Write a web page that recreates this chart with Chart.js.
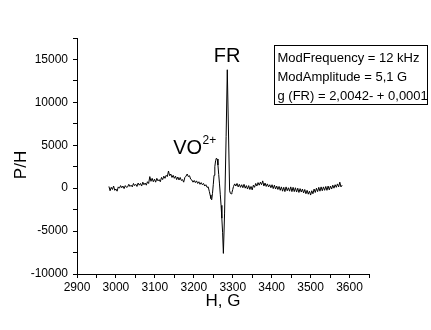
<!DOCTYPE html>
<html><head><meta charset="utf-8">
<script src="https://cdn.jsdelivr.net/npm/chart.js@4.4.0/dist/chart.umd.min.js"></script>
<style>html,body{margin:0;padding:0;background:#fff}canvas{display:block}</style>
</head><body>
<canvas id="c" width="431" height="330" style="width:431px;height:330px"></canvas>
<script>
// Magnetic field H, G
const fields = [
 2982,2985,2988,2991,2994,2997,3000,3003,3006,3009,
 3012,3015,3018,3021,3024,3027,3030,3033,3036,3039,
 3042,3045,3048,3051,3054,3057,3060,3063,3066,3069,
 3072,3075,3078,3081,3084,3087,3090,3093,3096,3099,
 3102,3105,3108,3111,3114,3117,3120,3123,3126,3129,
 3132,3135,3138,3141,3144,3147,3150,3153,3156,3159,
 3162,3165,3168,3171,3174,3177,3180,3183,3186,3189,
 3192,3195,3198,3201,3204,3207,3210,3213,3216,3219,
 3222,3225,3228,3231,3234,3237,3240,
 3242,3244,3246,3248,3250,3252,3254,3256,3258,3260,
 3262,3264,3266,3268,3270,3272,3274,3276,3279,3283,
 3286,3292,3294,3296,3298,3300,3302,3305,
 3308,3311,3314,3317,3320,3323,3326,3329,3332,3335,
 3338,3341,3344,3347,3350,3353,3356,3359,3362,3365,
 3368,3371,3374,3377,3380,3383,3386,3389,3392,3395,
 3398,3401,3404,3407,3410,3413,3416,3419,3422,3425,
 3428,3431,3434,3437,3440,3443,3446,3449,3452,3455,
 3458,3461,3464,3467,3470,3473,3476,3479,3482,3485,
 3488,3491,3494,3497,3500,3503,3506,3509,3512,3515,
 3518,3521,3524,3527,3530,3533,3536,3539,3542,3545,
 3548,3551,3554,3557,3560,3563,3566,3569,3572,3575,
 3578,3581
];
// Signal P/H
const signal = [
 200,-300,100,-150,250,-250,-100,-350,150,0,
 300,50,250,-50,300,100,150,450,200,350,
 150,550,300,450,200,600,350,550,250,700,
 400,600,350,750,550,1350,800,1150,750,1050,
 700,1150,850,1000,750,1250,1000,1400,1150,1500,
 1350,2000,1450,1650,1250,1500,1150,1400,1000,1300,
 950,1250,900,1000,700,1250,1400,1650,1350,1450,
 1050,950,700,900,650,850,550,750,450,650,
 400,550,250,400,100,150,-400,
 -800,-1200,-1350,-600,400,1500,2500,3200,3500,3400,
 2700,1600,500,-700,-2000,-3500,-5200,-7600,-3000,6000,
 13800,-300,-600,-650,-500,-150,200,500,
 250,550,150,450,100,400,50,450,0,300,
 -100,300,-150,200,-200,350,100,550,250,650,
 350,700,400,850,250,600,200,500,150,400,
 50,400,-50,350,-100,250,-150,200,-250,150,
 -350,100,-400,150,-300,50,-350,150,-400,100,
 -400,50,-450,0,-500,-50,-450,-100,-550,-150,
 -650,-250,-700,-350,-800,-300,-650,-100,-500,0,
 -400,100,-350,150,-300,150,-250,200,-250,250,
 -200,250,-100,350,0,400,100,500,150,700,
 150,350
];
const xTicks = [2900,2950,3000,3050,3100,3150,3200,3250,3300,3350,3400,3450,3500,3550,3600,3650];
const xLabels = [2900,3000,3100,3200,3300,3400,3500,3600];
const yTicks = [-10000,-7500,-5000,-2500,0,2500,5000,7500,10000,12500,15000,17500];
const yLabels = [-10000,-5000,0,5000,10000,15000];
const xTitle = 'H, G';
const yTitle = 'P/H';
const peakFR = 'FR';
const peakVO = 'VO';
const peakVOsup = '2+';
const infoLines = ['ModFrequency = 12 kHz', 'ModAmplitude = 5,1 G', 'g (FR) = 2,0042- + 0,0001'];

const FONT = '"Liberation Sans", Arial, sans-serif';
Chart.defaults.font.family = FONT;
Chart.defaults.color = '#000';

const annot = {
  id: 'annot',
  afterDraw(chart) {
    const {ctx, scales: {x, y}} = chart;
    ctx.save();
    ctx.fillStyle = '#000';
    // y axis title
    ctx.save();
    ctx.font = '17px ' + FONT;
    ctx.textAlign = 'center';
    ctx.textBaseline = 'middle';
    ctx.translate(21, (y.top + y.bottom) / 2 + 9);
    ctx.rotate(-Math.PI / 2);
    ctx.fillText(yTitle, 0, 0);
    ctx.restore();
    ctx.textBaseline = 'alphabetic';
    // FR label
    ctx.font = '20px ' + FONT;
    ctx.textAlign = 'center';
    ctx.fillText(peakFR, x.getPixelForValue(3285.6), y.getPixelForValue(14700));
    // VO2+ label
    ctx.textAlign = 'left';
    const vx = x.getPixelForValue(3147), vy = y.getPixelForValue(3950);
    ctx.fillText(peakVO, vx, vy);
    const w = ctx.measureText(peakVO).width;
    ctx.font = '12px ' + FONT;
    ctx.fillText(peakVOsup, vx + w + 0.5, vy - 10);
    // info box
    ctx.strokeStyle = '#000';
    ctx.lineWidth = 1;
    ctx.strokeRect(274.5, 45.5, 153, 59);
    ctx.font = '13px ' + FONT;
    infoLines.forEach((t, i) => ctx.fillText(t, 277.5, 61.5 + i * 19));
    ctx.restore();
  }
};

new Chart(document.getElementById('c'), {
  type: 'line',
  data: {
    datasets: [{
      data: fields.map((v, i) => ({x: v, y: signal[i]})),
      borderColor: '#000', borderWidth: 1, pointRadius: 0, tension: 0, fill: false
    }]
  },
  options: {
    responsive: false, animation: false,
    layout: {padding: {top: 38, right: 62, bottom: 0, left: 0}},
    plugins: {legend: {display: false}, tooltip: {enabled: false}},
    scales: {
      x: {
        type: 'linear', position: 'bottom', min: 2900, max: 3650,
        afterBuildTicks: s => { s.ticks = xTicks.map(v => ({value: v})); },
        ticks: {autoSkip: false, maxRotation: 0, padding: 2, font: {size: 12}, color: '#000',
          callback: v => xLabels.includes(v) ? String(v) : ''},
        grid: {drawOnChartArea: false, drawTicks: true, tickLength: 4, tickColor: '#000', tickWidth: 1},
        border: {display: true, color: '#000', width: 1},
        title: {display: true, text: xTitle, font: {size: 17}, color: '#000', padding: {top: 0, bottom: 18.3}},
        afterFit: s => { s.height = 56; }
      },
      y: {
        type: 'linear', position: 'left', min: -10000, max: 17500,
        afterBuildTicks: s => { s.ticks = yTicks.map(v => ({value: v})); },
        ticks: {autoSkip: false, padding: 5, font: {size: 12}, color: '#000',
          callback: v => yLabels.includes(v) ? String(v) : ''},
        grid: {drawOnChartArea: false, drawTicks: true, tickLength: 4, tickColor: '#000', tickWidth: 1},
        border: {display: true, color: '#000', width: 1},
        title: {display: false},
        afterFit: s => { s.width = 77; }
      }
    }
  },
  plugins: [annot]
});
</script>
</body></html>
